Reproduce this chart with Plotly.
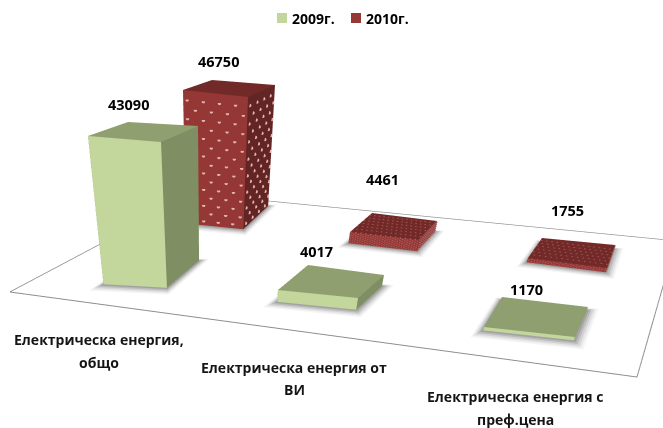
import plotly.graph_objects as go
import numpy as np

categories = [["Електрическа енергия,", "общо"], ["Електрическа енергия от", "ВИ"], ["Електрическа енергия с", "преф.цена"]]
series_names = ["2009г.", "2010г."]
values_2009 = [43090, 4017, 1170]
values_2010 = [46750, 4461, 1755]

ZR = (-1000, 50000); AZ = 0.6; XY = 8.0
EYE = (0.8041, -1.5308, 0.7344)
CENTER = (0.1956, -0.0695, -0.0305)
UP = (-0.0586, -0.1216, 1.0)

# where each footprint sits in the view (front-left, front-right, back-right, back-left)
FLOOR_AT = [(10,292),(637,377),(676,241),(195,194)]
PLACE = {
 "2009г.": [[(88,136),(161,142),(198,126),(128,122)], [(278,290),(358,298),(384,275),(308,265)], [(484,327),(575,337),(588,307),(502,297)]],
 "2010г.": [[(183,90),(248,97),(275,85),(212,80)], [(350,232),(419,240),(437,221),(372,213)], [(528,258),(607,268),(615,245),(542,238)]],
}
T = np.tan(np.pi/8); ASP = 663/428

def Zn(v):
    return AZ*(v-(ZR[0]+ZR[1])/2)/(ZR[1]-ZR[0])

def footprint(px, z):
    """Scene x/y on the plane of height z that is seen at view position px."""
    e = np.array(EYE); f = np.array(CENTER)-e; f = f/np.linalg.norm(f)
    r = np.cross(f, UP); r = r/np.linalg.norm(r); u = np.cross(r, f)
    d = f + r*(px[0]/331.5-1)*T*ASP + u*(1-px[1]/214)*T
    return (e + (Zn(z)-e[2])/d[2]*d)[:2]

FRONT = {"2009г.": "#c3d69b", "2010г.": "#953735"}
SIDE = {"2009г.": "#7f8f63", "2010г.": "#632523"}
TOP = {"2009г.": "#8f9f6f", "2010г.": "#722a28"}
SHADOW_SIZE = [1.0, 0.8, 0.6, 0.4, 0.2]
SHADOW_GREY = ["#f5f5f5", "#e6e6e6", "#d2d2d2", "#bababa", "#a2a2a2"]
fig = go.Figure()

def box(q, z0, z1, colors):
    xs = [p[0] for p in q]*2; ys = [p[1] for p in q]*2; zs = [z0]*4+[z1]*4
    i = [0,0, 1,1, 4,4, 0,0, 3,3, 2,2]
    j = [1,5, 2,6, 5,6, 3,7, 2,6, 1,0]
    k = [5,4, 6,5, 6,7, 7,4, 6,7, 0,3]
    front, side, top = colors
    fc = [front]*2+[side]*2+[top]*2+[side]*2+[top]*2+[side]*2
    fig.add_trace(go.Mesh3d(x=xs, y=ys, z=zs, i=i, j=j, k=k, facecolor=fc, flatshading=True,
        lighting=dict(ambient=1, diffuse=0, specular=0, roughness=1, fresnel=0),
        hoverinfo="skip", showscale=False, showlegend=False))

floor = [footprint(px, 0) for px in FLOOR_AT]
box(floor, -300, -60, ("#ffffff",)*3)
lp = floor+[floor[0]]
fig.add_trace(go.Scatter3d(x=[p[0] for p in lp], y=[p[1] for p in lp], z=[-5]*5, mode="lines",
    line=dict(color="#8c8c8c", width=2), hoverinfo="skip", showlegend=False))

for name, vals in zip(series_names, [values_2009, values_2010]):
    for c, v in enumerate(vals):
        q = [footprint(px, v) for px in PLACE[name][c]]
        ex_ = ((q[1]-q[0])+(q[2]-q[3]))/2; ey_ = ((q[3]-q[0])+(q[2]-q[1]))/2
        for n, (g, shade) in enumerate(zip(SHADOW_SIZE, SHADOW_GREY)):
            gx = g*0.13; gy = g*0.22
            sh = [q[0]-ex_*gx*0.6-ey_*gy, q[1]+ex_*gx-ey_*gy, q[2]+ex_*gx+ey_*gy*0.4, q[3]-ex_*gx*0.6+ey_*gy*0.4]
            box(sh, -300, -50+n*9, (shade,)*3)
        box(q, 0, v, (FRONT[name], SIDE[name], TOP[name]))
        if name == "2010г.":
            big = v > 10000
            dz = 3000 if big else 420
            nc = 4 if big else 14
            xs, ys, zs = [], [], []
            eps = 0.002
            for m, h in enumerate(np.arange(dz*0.6, v, dz)):
                sh_ = 0.5 if m % 2 else 0
                for i_ in range(nc):
                    u = (i_+0.25+sh_)/nc
                    a = q[0]+u*(q[1]-q[0])-ey_*eps
                    b = q[1]+u*(q[2]-q[1])+ex_*eps
                    xs += [a[0], b[0]]; ys += [a[1], b[1]]; zs += [h, h]
            if not big:
                for ia in range(1, 7):
                    for ib in range(nc):
                        uu = (ib+0.5*(ia % 2)+0.25)/nc; vv = ia/7
                        pnt = q[0]+uu*(q[1]-q[0])+vv*(q[3]-q[0])
                        xs.append(pnt[0]); ys.append(pnt[1]); zs.append(v+40)
            fig.add_trace(go.Scatter3d(x=xs, y=ys, z=zs, mode="markers",
                marker=dict(size=2 if big else 1, color="#e2b4b2" if big else "#a85a58", line=dict(width=0)),
                hoverinfo="skip", showlegend=False))

fig.update_layout(
    width=663, height=428, margin=dict(l=0, r=0, t=0, b=0), paper_bgcolor="white", showlegend=False,
    scene=dict(domain=dict(x=[0, 1], y=[0, 1]),
        xaxis=dict(visible=False, range=[-XY, XY]), yaxis=dict(visible=False, range=[-XY, XY]),
        zaxis=dict(visible=False, range=list(ZR)),
        aspectmode="manual", aspectratio=dict(x=2*XY, y=2*XY, z=AZ),
        camera=dict(eye=dict(x=EYE[0], y=EYE[1], z=EYE[2]), center=dict(x=CENTER[0], y=CENTER[1], z=CENTER[2]),
                    up=dict(x=UP[0], y=UP[1], z=UP[2]), projection=dict(type="perspective"))))

def txt(t, px, py, size, color="#000", xa="center"):
    fig.add_annotation(text=f"<b>{t}</b>", xref="paper", yref="paper", x=px/663, y=1-py/428, showarrow=False,
        font=dict(family="Open Sans", size=size, color=color), xanchor=xa, yanchor="middle")

val_pos = {"2009г.": [(128,105),(316,252),(526,289)], "2010г.": [(218,62),(383,179),(567,210)]}
for name, vals in zip(series_names, [values_2009, values_2010]):
    for v, (px, py) in zip(vals, val_pos[name]):
        txt(v, px, py, 14.5)
lab_pos = [(99,339,362), (294,367,389), (515,396,419)]
for t, (px, y1, y2) in zip(categories, lab_pos):
    txt(t[0], px, y1, 14, "#151515"); txt(t[1], px, y2, 14, "#151515")
for px, t in zip([277, 351], series_names):
    fig.add_shape(type="rect", xref="paper", yref="paper", x0=px/663, x1=(px+10)/663, y0=1-23/428, y1=1-13/428,
                  fillcolor=FRONT[t], line=dict(width=0))
    txt(t, px+13, 19, 14, "#000", "left")

fig.write_html("out.html", post_script="document.body.style.margin='0';", config={"displayModeBar": False})
